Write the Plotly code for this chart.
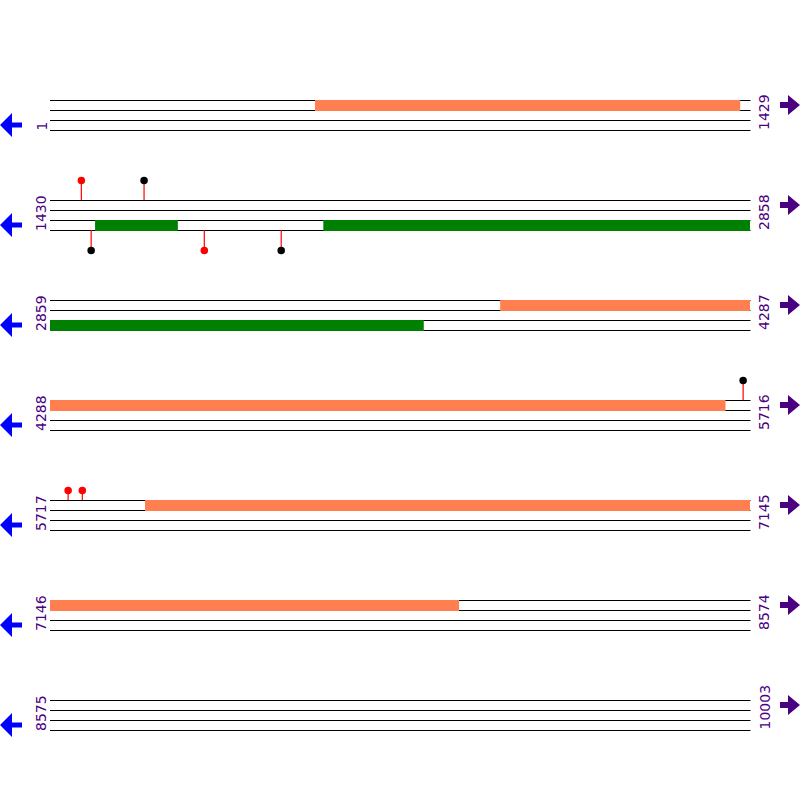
import plotly.graph_objects as go

# ---- data ----
row_starts = [1, 1430, 2859, 4288, 5717, 7146, 8575]
row_ends = [1429, 2858, 4287, 5716, 7145, 8574, 10003]

feat_starts = [542, 1522, 1988, 3778, 5911]
feat_ends = [1409, 1690, 3621, 5666, 7980]
feat_strands = ["+", "-", "-", "+", "+"]
feat_colors = ["#FF7F50", "#008000", "#008000", "#FF7F50", "#FF7F50"]

lolli_pos = [1494, 1622, 1514, 1745, 1902, 5703, 5754, 5783]
lolli_strand = ["+", "+", "-", "-", "-", "+", "+", "+"]
lolli_height = [2, 2, 2, 2, 2, 2, 1, 1]
lolli_color = ["red", "black", "black", "red", "black", "black", "red", "red"]

# ---- layout constants ----
ROW_LEN = 1429
ROW_TOP0 = 100
ROW_STEP = 100
PX_PER_BP = 700 / ROW_LEN
PAD_BP = 50 / PX_PER_BP
LABEL_COLOR = "#4B0082"
H = 0.5  # half-pixel offset for crisp 1px lines

def row_of(pos):
    for i, (s, e) in enumerate(zip(row_starts, row_ends)):
        if s <= pos <= e:
            return i
    return None

fig = go.Figure()

# track lines and strand arrows
shapes = []
for i, s in enumerate(row_starts):
    y0 = ROW_TOP0 + i * ROW_STEP
    for k in range(4):
        shapes.append(dict(type="line", xref="x", yref="y", x0=0, x1=ROW_LEN + 0.5 / PX_PER_BP,
                           y0=y0 + 10 * k + H, y1=y0 + 10 * k + H, layer="below",
                           line=dict(color="black", width=1)))
    yc = y0 + 25
    shapes.append(dict(type="path", xref="x2", yref="y", layer="above",
                       path=f"M 0 {yc} L 12 {yc-12} L 12 {yc-2.5} L 22 {yc-2.5} L 22 {yc+2.5} L 12 {yc+2.5} L 12 {yc+12} Z",
                       fillcolor="#0000FF", line=dict(width=0)))
    yc = y0 + 5
    shapes.append(dict(type="path", xref="x2", yref="y", layer="above",
                       path=f"M 800 {yc} L 788 {yc-10} L 788 {yc-3} L 780 {yc-3} L 780 {yc+3} L 788 {yc+3} L 788 {yc+10} Z",
                       fillcolor=LABEL_COLOR, line=dict(width=0)))

# feature bars (split across rows)
for fs, fe, st, col in zip(feat_starts, feat_ends, feat_strands, feat_colors):
    bases, lens, ys = [], [], []
    for i, (rs, re_) in enumerate(zip(row_starts, row_ends)):
        a, b = max(fs, rs), min(fe, re_)
        if a <= b:
            y0 = ROW_TOP0 + i * ROW_STEP
            bases.append(a - rs)
            lens.append(b - a + 1)
            ys.append(y0 + 5.5 if st == "+" else y0 + 25.5)
    fig.add_trace(go.Bar(orientation="h", x=lens, base=bases, y=ys, width=11,
                         marker=dict(color=col, line=dict(width=0)),
                         hoverinfo="skip"))

# lollipops
sx, sy, hx, hy, hc = [], [], [], [], []
for p, st, h, c in zip(lolli_pos, lolli_strand, lolli_height, lolli_color):
    i = row_of(p)
    y0 = ROW_TOP0 + i * ROW_STEP
    xo = p - row_starts[i]
    if st == "+":
        ya, yb = y0, y0 - 10 * h + H
    else:
        ya, yb = y0 + 30, y0 + 30 + 10 * h + H
    sx += [xo, xo, None]
    sy += [ya, yb, None]
    hx.append(xo)
    hy.append(yb)
    hc.append(c)
fig.add_trace(go.Scatter(x=sx, y=sy, mode="lines", line=dict(color="red", width=1.2),
                         hoverinfo="skip"))
fig.add_trace(go.Scatter(x=hx, y=hy, mode="markers",
                         marker=dict(color=hc, size=7.5, line=dict(width=0)),
                         hoverinfo="skip"))

# row labels
annotations = []
for i, (s, e) in enumerate(zip(row_starts, row_ends)):
    y0 = ROW_TOP0 + i * ROW_STEP
    annotations.append(dict(xref="x2", yref="y", x=41, y=y0 + 32, text=str(s),
                            textangle=-90, xanchor="center", yanchor="bottom",
                            showarrow=False, borderpad=0,
                            font=dict(family="DejaVu Sans", size=14, color=LABEL_COLOR)))
    annotations.append(dict(xref="x2", yref="y", x=764, y=y0 + 31, text=str(e),
                            textangle=-90, xanchor="center", yanchor="bottom",
                            showarrow=False, borderpad=0,
                            font=dict(family="DejaVu Sans", size=14, color=LABEL_COLOR)))

fig.update_layout(
    width=800, height=800,
    margin=dict(l=0, r=0, t=0, b=0),
    paper_bgcolor="white", plot_bgcolor="white",
    showlegend=False, barmode="overlay",
    shapes=shapes, annotations=annotations,
    xaxis=dict(range=[-PAD_BP, ROW_LEN + PAD_BP], visible=False, fixedrange=True),
    xaxis2=dict(range=[0, 800], overlaying="x", visible=False, fixedrange=True),
    yaxis=dict(range=[800, 0], visible=False, fixedrange=True),
)
fig.add_trace(go.Scatter(x=[0, 800], y=[0, 0], xaxis="x2", mode="markers",
                         marker=dict(opacity=0), hoverinfo="skip"))

fig.write_html("out.html", config={"displayModeBar": False},
               post_script="document.body.style.margin='0';document.body.style.padding='0';")
